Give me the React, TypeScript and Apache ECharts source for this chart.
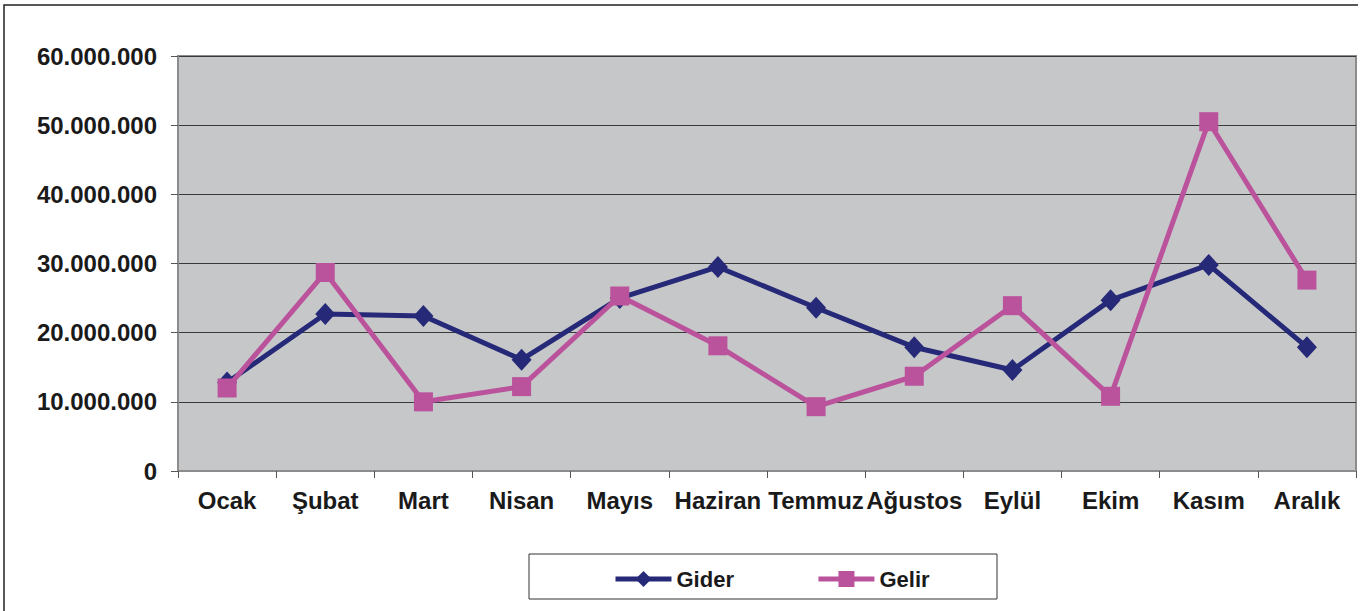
import React, { useEffect, useRef } from "react";
import * as echarts from "echarts";

const months = ["Ocak", "Şubat", "Mart", "Nisan", "Mayıs", "Haziran", "Temmuz", "Ağustos", "Eylül", "Ekim", "Kasım", "Aralık"];
const gider = [12800000, 22700000, 22400000, 16100000, 25000000, 29500000, 23600000, 17900000, 14600000, 24700000, 29800000, 17900000];
const gelir = [12000000, 28700000, 10000000, 12200000, 25300000, 18100000, 9300000, 13700000, 23900000, 10800000, 50500000, 27600000];
const yMax = 60000000;
const yStep = 10000000;

const FONT = "Liberation Sans, Arial, sans-serif";

function fmt(v: number): string {
  return String(v).replace(/\B(?=(\d{3})+(?!\d))/g, ".");
}

export default function App() {
  const ref = useRef<HTMLDivElement>(null);
  useEffect(() => {
    document.body.style.margin = "0";
    const chart = echarts.init(ref.current!, null, { renderer: "svg" });
    chart.setOption({
      animation: false,
      backgroundColor: "#ffffff",
      textStyle: { fontFamily: FONT },
      grid: {
        left: 178,
        top: 56,
        right: 9,
        bottom: 140,
        show: true,
        backgroundColor: "#c6c7c9",
        borderColor: "#8c8c8c",
        borderWidth: 2,
      },
      graphic: [
        {
          type: "polyline",
          shape: { points: [[4, 611], [4, 5], [1358, 5]] },
          style: { stroke: "#222", lineWidth: 1.5, fill: "none" },
          silent: true,
        },
        {
          type: "rect",
          shape: { x: 529, y: 554, width: 468, height: 45 },
          style: { stroke: "#333", lineWidth: 1, fill: "#fff" },
          z: -1,
          silent: true,
        },
      ],
      legend: {
        left: 608,
        top: 563,
        itemWidth: 56,
        itemHeight: 20,
        itemGap: 82,
        lineStyle: { width: 5 },
        textStyle: { fontFamily: FONT, fontSize: 22, fontWeight: "bold", color: "#1a1a1a" },
        data: ["Gider", "Gelir"],
      },
      xAxis: {
        type: "category",
        data: months,
        boundaryGap: true,
        axisLine: { lineStyle: { color: "#8c8c8c", width: 2 } },
        axisTick: { show: true, length: 7, lineStyle: { color: "#555" }, alignWithLabel: false },
        axisLabel: {
          interval: 0,
          margin: 17,
          fontFamily: FONT,
          fontSize: 24,
          fontWeight: "bold",
          color: "#1a1a1a",
        },
      },
      yAxis: {
        type: "value",
        min: 0,
        max: yMax,
        interval: yStep,
        axisLine: { show: true, lineStyle: { color: "#8c8c8c", width: 2 } },
        axisTick: { show: true, length: 7, lineStyle: { color: "#555" } },
        splitLine: { show: true, lineStyle: { color: "#3a3a3a", width: 1 } },
        axisLabel: {
          margin: 21,
          fontFamily: FONT,
          fontSize: 24,
          fontWeight: "bold",
          color: "#1a1a1a",
          formatter: (v: number) => fmt(v),
        },
      },
      series: [
        {
          name: "Gider",
          type: "line",
          data: gider,
          symbol: "diamond",
          symbolSize: [20, 22],
          lineStyle: { color: "#262878", width: 5 },
          itemStyle: { color: "#262878" },
          z: 2,
        },
        {
          name: "Gelir",
          type: "line",
          data: gelir,
          symbol: "rect",
          symbolSize: 19,
          lineStyle: { color: "#bb529c", width: 5 },
          itemStyle: { color: "#bb529c" },
          z: 3,
        },
      ],
    });
    return () => chart.dispose();
  }, []);
  return <div ref={ref} style={{ width: 1365, height: 611 }} />;
}
